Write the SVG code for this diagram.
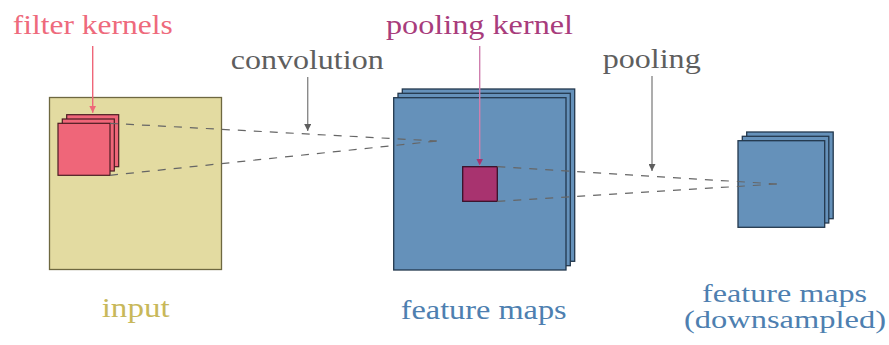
<svg xmlns="http://www.w3.org/2000/svg" width="889" height="345" viewBox="0 0 889 345">
  <style>
    .lbl { font-family: "Liberation Serif", "DejaVu Serif", serif; font-size: 27px; }
    .small { font-size: 25px; }
    .gray { fill: #5e5e5e; }
    .input-box { fill: #E3DBA1; stroke: #6E6840; stroke-width: 1.3; }
    .kernel { fill: #EF6679; stroke: #4a1c22; stroke-width: 1.2; }
    .fmap { fill: #6591BA; stroke: #23384d; stroke-width: 1.3; }
    .pool { fill: #A8336F; stroke: #3a1028; stroke-width: 1.3; }
    .dash { fill: none; stroke: #666; stroke-width: 1.2; stroke-dasharray: 8 8; }
    .lead { fill: none; stroke-width: 1.4; }
  </style>
  <defs>
    <marker id="tip-gray" viewBox="0 0 10 10" refX="10" refY="5" markerWidth="7" markerHeight="7" markerUnits="userSpaceOnUse" orient="auto">
      <path d="M0,0 L10,5 L0,10 z" fill="#5e5e5e"/>
    </marker>
    <marker id="tip-pink" viewBox="0 0 10 10" refX="10" refY="5" markerWidth="7" markerHeight="7" markerUnits="userSpaceOnUse" orient="auto">
      <path d="M0,0 L10,5 L0,10 z" fill="#EF6679"/>
    </marker>
    <marker id="tip-plum" viewBox="0 0 10 10" refX="10" refY="5" markerWidth="7" markerHeight="7" markerUnits="userSpaceOnUse" orient="auto">
      <path d="M0,0 L10,5 L0,10 z" fill="#A8336F"/>
    </marker>
  </defs>

  <rect width="889" height="345" fill="#ffffff"/>

  <!-- input image with stacked filter kernels -->
  <g id="input">
    <rect class="input-box" x="49.5" y="97.5" width="172" height="172"/>
    <text class="lbl" x="101.7" y="317.3" fill="#C8B85A" textLength="68" lengthAdjust="spacingAndGlyphs">input</text>
  </g>
  <g id="filter-kernels">
    <rect class="kernel" x="66.7" y="114.7" width="52" height="52"/>
    <rect class="kernel" x="62.3" y="119" width="52" height="52"/>
    <rect class="kernel" x="58" y="123.3" width="52" height="52"/>
    <text class="lbl" x="12.7" y="34" fill="#EE6A7C" textLength="160" lengthAdjust="spacingAndGlyphs">filter kernels</text>
  </g>

  <!-- feature maps after convolution -->
  <g id="feature-maps">
    <rect class="fmap" x="402.3" y="89" width="172.4" height="172.3"/>
    <rect class="fmap" x="398" y="93.3" width="172.3" height="172.4"/>
    <rect class="fmap" x="393.7" y="97.7" width="172.3" height="172.3"/>
    <text class="lbl" x="400.7" y="319.3" fill="#4E7FB0" textLength="166" lengthAdjust="spacingAndGlyphs">feature maps</text>
  </g>
  <g id="pooling-kernel">
    <rect class="pool" x="462.7" y="166.7" width="34.6" height="34.6"/>
    <text class="lbl" x="386" y="34" fill="#A83C7C" textLength="187" lengthAdjust="spacingAndGlyphs">pooling kernel</text>
  </g>

  <!-- downsampled feature maps -->
  <g id="downsampled">
    <rect class="fmap" x="746.7" y="132" width="86.5" height="86.7"/>
    <rect class="fmap" x="742.3" y="136.3" width="86.5" height="86.7"/>
    <rect class="fmap" x="738" y="140.7" width="86.7" height="86.6"/>
    <text class="lbl small" x="702" y="302" fill="#4E7FB0" textLength="165" lengthAdjust="spacingAndGlyphs">feature maps</text>
    <text class="lbl small" x="684" y="327.5" fill="#4E7FB0" textLength="202" lengthAdjust="spacingAndGlyphs">(downsampled)</text>
  </g>

  <!-- operation labels -->
  <g id="convolution">
    <text class="lbl gray" x="230.7" y="69" textLength="153" lengthAdjust="spacingAndGlyphs">convolution</text>
  </g>
  <g id="pooling">
    <text class="lbl gray" x="602.7" y="68.3" textLength="98" lengthAdjust="spacingAndGlyphs">pooling</text>
  </g>

  <g id="connectors">
    <!-- receptive field projections -->
    <path class="dash" d="M110,123.3 L437,141"/>
    <path class="dash" d="M110,175.3 L437,141"/>
    <path class="dash" d="M497.3,166.7 L777,184"/>
    <path class="dash" d="M497.3,201.3 L777,184"/>
    <!-- label leaders -->
    <path class="lead" stroke="#EF6679" d="M92.7,46 L92.7,112.7" marker-end="url(#tip-pink)"/>
    <path class="lead" stroke="#CF7FAE" d="M479.7,46 L479.7,165.5" marker-end="url(#tip-plum)"/>
    <path class="lead" stroke="#8a8a8a" d="M307.7,77 L307.7,131" marker-end="url(#tip-gray)"/>
    <path class="lead" stroke="#8a8a8a" d="M652,76 L652,171" marker-end="url(#tip-gray)"/>
  </g>
</svg>
